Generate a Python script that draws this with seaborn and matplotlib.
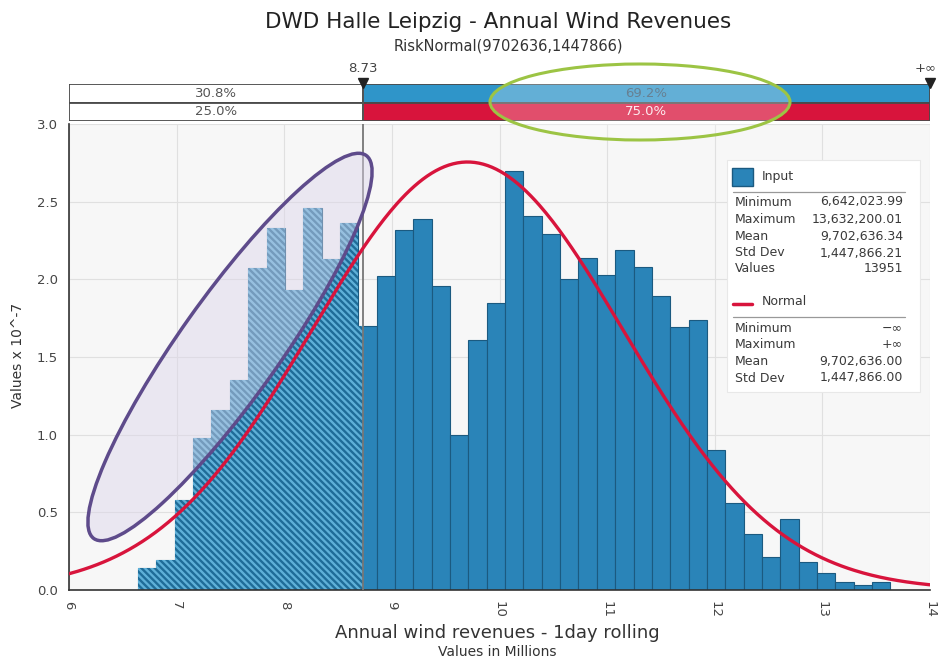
import numpy as np
import pandas as pd
import matplotlib
matplotlib.use("Agg")
import matplotlib.pyplot as plt
import seaborn as sns
from matplotlib.patches import Ellipse, Rectangle
from matplotlib.lines import Line2D
from matplotlib.transforms import IdentityTransform

# ---------------- data ----------------
input_min = 6.64202399      # millions
input_max = 13.63220001     # millions
n_bins = 41
bin_heights = [0.14, 0.19, 0.58, 0.98, 1.16, 1.35, 2.07, 2.33, 1.93, 2.46, 2.13, 2.36,
               1.70, 2.02, 2.32, 2.39, 1.96, 1.00, 1.61, 1.85, 2.70, 2.41, 2.29, 2.00,
               2.14, 2.03, 2.19, 2.08, 1.89, 1.69, 1.74, 0.90, 0.56, 0.36, 0.21, 0.46,
               0.18, 0.11, 0.05, 0.03, 0.05]
normal_mean = 9702636.0
normal_std = 1447866.0
threshold = 8.73
input_split = ["30.8%", "69.2%"]
normal_split = ["25.0%", "75.0%"]
x_ticks = [6, 7, 8, 9, 10, 11, 12, 13, 14]
y_ticks = [0.0, 0.5, 1.0, 1.5, 2.0, 2.5, 3.0]
stats_input_labels = ["Minimum", "Maximum", "Mean", "Std Dev", "Values"]
stats_input_values = ["6,642,023.99", "13,632,200.01", "9,702,636.34", "1,447,866.21", "13951"]
stats_normal_labels = ["Minimum", "Maximum", "Mean", "Std Dev"]
stats_normal_values = ["\u2212\u221e", "+\u221e", "9,702,636.00", "1,447,866.00"]

# ---------------- style ----------------
sns.set_style("white")
plt.rcParams["font.family"] = ["DejaVu Sans"]
plt.rcParams["hatch.linewidth"] = 1.7

BLUE = "#2a84b8"
BLUE_EDGE = "#1b5a80"
HATCH_FACE = "#5fb0d8"
HATCH_LINE = "#1f6c98"
RED = "#d8143c"
TXT = "#3a3a3a"

W, H = 952, 659
fig = plt.figure(figsize=(W / 100, H / 100), dpi=100)


def fx(px):
    return px / W


def fy(py):
    return 1 - py / H


# ---------------- main axes ----------------
ax = fig.add_axes([fx(69), fy(590), fx(930) - fx(69), fy(124) - fy(590)])
ax.set_facecolor("#f7f7f7")

edges = np.linspace(input_min, input_max, n_bins + 1)
centers = (edges[:-1] + edges[1:]) / 2
df = pd.DataFrame({"x": centers, "h": bin_heights})

sns.histplot(data=df, x="x", weights="h", bins=edges.tolist(), stat="count", ax=ax,
             color=BLUE, edgecolor=BLUE_EDGE, linewidth=0.8, alpha=1, zorder=2)

n_before = len(ax.patches)
mask = edges[:-1] < threshold
sns.histplot(data=df[mask], x="x", weights="h", bins=edges[:mask.sum() + 1].tolist(),
             stat="count", ax=ax, color=HATCH_FACE, edgecolor=HATCH_LINE,
             linewidth=0, alpha=1, hatch="\\\\\\\\\\", zorder=2.5)
clip_rect = Rectangle((6, 0), threshold - 6, 3.2, transform=ax.transData)
for p in ax.patches[n_before:]:
    p.set_clip_path(clip_rect)

# fitted normal (RiskNormal) in values x 10^-7 per dollar
xs = np.linspace(6, 14, 400)
pdf = np.exp(-0.5 * ((xs * 1e6 - normal_mean) / normal_std) ** 2) / (normal_std * np.sqrt(2 * np.pi))
sns.lineplot(x=xs, y=pdf * 1e7, ax=ax, color=RED, linewidth=2.4, zorder=4)

ax.axvline(threshold, color="#777777", linewidth=1.3, zorder=3)

ax.set_xlim(6, 14)
ax.set_ylim(0, 3.0)
ax.set_xticks(x_ticks)
ax.set_xticklabels([str(t) for t in x_ticks], rotation=-90)
ax.set_yticks(y_ticks)
ax.set_yticklabels([f"{v:.1f}" for v in y_ticks])
ax.tick_params(axis="both", length=4, width=1, color="#444444", labelsize=9.5,
               labelcolor="#444444", direction="out", pad=4)
ax.grid(True, color="#e0e0e0", linewidth=0.8)
ax.set_axisbelow(True)
for s in ["top", "right"]:
    ax.spines[s].set_visible(False)
for s in ["left", "bottom"]:
    ax.spines[s].set_color("#333333")
    ax.spines[s].set_linewidth(1.2)
ax.set_xlabel("")
ax.set_ylabel("")

# purple ellipse (pixel coords, display y upward)
ax.add_patch(Ellipse((230, H - 347), 470, 100, angle=54.6, transform=IdentityTransform(),
                     facecolor="#dcd5ea", alpha=0.45, edgecolor="none", zorder=3.2))
ax.add_patch(Ellipse((230, H - 347), 470, 100, angle=54.6, transform=IdentityTransform(),
                     facecolor="none", edgecolor="#5e4b8b", linewidth=2.5, zorder=3.3))

# ---------------- top band ----------------
axb = fig.add_axes([fx(69), fy(121), fx(930) - fx(69), fy(84) - fy(121)])
axb.set_xlim(6, 14)
axb.set_ylim(0, 2)
axb.axis("off")
axb.barh([1.5, 1.5], [threshold - 6, 14 - threshold], left=[6, threshold], height=1,
         color=["white", "#2f95c9"], edgecolor="#4a4a4a", linewidth=1.3)
axb.barh([0.5, 0.5], [threshold - 6, 14 - threshold], left=[6, threshold], height=1,
         color=["white", RED], edgecolor="#4a4a4a", linewidth=1.3)
mid_l = (6 + threshold) / 2
mid_r = (threshold + 14) / 2
axb.text(mid_l, 1.5, input_split[0], ha="center", va="center", fontsize=9.5, color="#555555")
axb.text(mid_r, 1.5, input_split[1], ha="center", va="center", fontsize=9.5, color="#35566e")
axb.text(mid_l, 0.5, normal_split[0], ha="center", va="center", fontsize=9.5, color="#555555")
axb.text(mid_r, 0.5, normal_split[1], ha="center", va="center", fontsize=9.5, color="#fbe4ea")
axb.plot([threshold, threshold], [0, 2], color="#555555", linewidth=1.3)
axb.plot([threshold], [2.05], marker="v", color="#222222", markersize=7, clip_on=False)
axb.plot([14], [2.05], marker="v", color="#222222", markersize=7, clip_on=False)
axb.text(threshold, 2.85, "8.73", ha="center", va="center", fontsize=9.5, color="#444444")
axb.text(13.96, 2.85, "+\u221e", ha="center", va="center", fontsize=9.5, color="#444444")

# green ellipse
fig.add_artist(Ellipse((640, H - 102), 300, 76, transform=IdentityTransform(),
                       facecolor="white", alpha=0.25, edgecolor="none", zorder=6))
fig.add_artist(Ellipse((640, H - 102), 300, 76, transform=IdentityTransform(),
                       facecolor="none", edgecolor="#9cc444", linewidth=2.2, zorder=6.1))

# ---------------- titles & labels ----------------
fig.text(fx(498), fy(22), "DWD Halle Leipzig - Annual Wind Revenues", ha="center", va="center",
         fontsize=15.5, color="#222222")
fig.text(fx(508), fy(46), "RiskNormal(9702636,1447866)", ha="center", va="center",
         fontsize=10.5, color="#333333")
fig.text(fx(497), fy(633), "Annual wind revenues - 1day rolling", ha="center", va="center",
         fontsize=13, color="#333333")
fig.text(fx(497), fy(652), "Values in Millions", ha="center", va="center",
         fontsize=10, color="#333333")
fig.text(fx(18), fy(355), "Values x 10^-7", ha="center", va="center", rotation=90,
         fontsize=10, color="#333333")

# ---------------- stats legend box ----------------
fig.add_artist(Rectangle((fx(727), fy(392)), fx(920) - fx(727), fy(160) - fy(392),
                         transform=fig.transFigure, facecolor="white", edgecolor="#e8e8e8",
                         linewidth=0.8, zorder=7))
fig.add_artist(Rectangle((fx(732), fy(186)), fx(753) - fx(732), fy(168) - fy(186),
                         transform=fig.transFigure, facecolor=BLUE, edgecolor=BLUE_EDGE,
                         linewidth=1, zorder=8))
fig.text(fx(762), fy(177), "Input", ha="left", va="center", fontsize=9, color=TXT, zorder=8)
fig.add_artist(Line2D([fx(733), fx(905)], [fy(192), fy(192)], transform=fig.transFigure,
                      color="#999999", linewidth=0.9, zorder=8))
row_y = [202, 219, 236, 253, 269]
for lab, val, yy in zip(stats_input_labels, stats_input_values, row_y):
    fig.text(fx(735), fy(yy), lab, ha="left", va="center", fontsize=9, color=TXT, zorder=8)
    fig.text(fx(903), fy(yy), val, ha="right", va="center", fontsize=9, color=TXT, zorder=8)

fig.add_artist(Line2D([fx(733), fx(752)], [fy(304), fy(304)], transform=fig.transFigure,
                      color=RED, linewidth=2.5, zorder=8))
fig.text(fx(762), fy(302), "Normal", ha="left", va="center", fontsize=9, color=TXT, zorder=8)
fig.add_artist(Line2D([fx(733), fx(905)], [fy(317), fy(317)], transform=fig.transFigure,
                      color="#999999", linewidth=0.9, zorder=8))
row_y2 = [328, 345, 362, 378]
for lab, val, yy in zip(stats_normal_labels, stats_normal_values, row_y2):
    fig.text(fx(735), fy(yy), lab, ha="left", va="center", fontsize=9, color=TXT, zorder=8)
    fig.text(fx(903), fy(yy), val, ha="right", va="center", fontsize=9, color=TXT, zorder=8)

fig.savefig("out.png", dpi=100)
